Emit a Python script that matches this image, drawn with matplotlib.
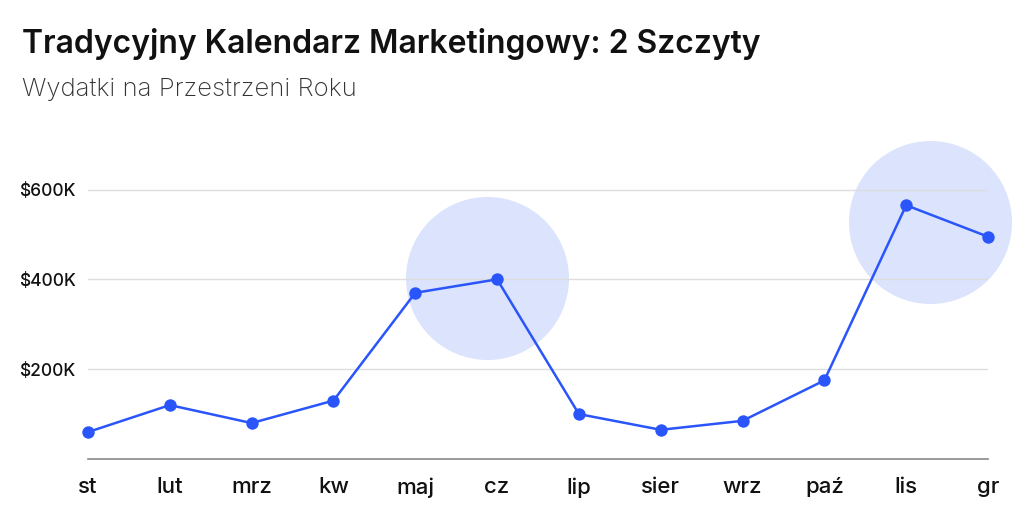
import matplotlib
matplotlib.use("Agg")
import matplotlib.pyplot as plt

months = ["st", "lut", "mrz", "kw", "maj", "cz", "lip", "sier", "wrz", "paź", "lis", "gr"]
spend = [60, 120, 80, 130, 370, 400, 100, 65, 85, 175, 565, 495]  # thousands of $

# highlight circles: (x position in month index, y value in K)
peaks_x = [4.88, 10.29]
peaks_y = [404, 527]

yticks = [200, 400, 600]
ytick_labels = ["$200K", "$400K", "$600K"]

blue = "#2a55fb"

plt.rcParams['font.family'] = ['Inter', 'DejaVu Sans']

fig = plt.figure(figsize=(10.24, 5.05), dpi=100)
ax = fig.add_axes([88/1024, 46/505, 900/1024, 318/505])

x = list(range(len(months)))

# big soft circles behind peaks (size in points^2, diameter ~163px)
d = 163 * 72 / 100
ax.scatter(peaks_x, peaks_y, s=d**2, color="#dbe3fd", zorder=1, clip_on=False, linewidths=0)

ax.plot(x, spend, color=blue, lw=1.8, zorder=3, clip_on=False)
ax.scatter(x, spend, s=80, color=blue, zorder=4, clip_on=False, linewidths=0)

ax.set_xlim(0, 11)
ax.set_ylim(0, 708)
ax.set_xticks(x)
ax.set_xticklabels(months, fontsize=16, color="#111111", fontweight="medium")
ax.set_yticks(yticks)
ax.set_yticklabels(ytick_labels, fontsize=12.5, color="#111111", fontweight="medium")
ax.tick_params(axis="both", length=0)
ax.tick_params(axis="x", pad=13)
ax.tick_params(axis="y", pad=9)

ax.grid(axis="y", color="#dddddd", lw=1, zorder=2)
ax.set_axisbelow(False)
for s in ["top", "right", "left"]:
    ax.spines[s].set_visible(False)
ax.spines["bottom"].set_color("#888888")
ax.spines["bottom"].set_linewidth(1.2)

fig.text(22/1024, 1 - 44/505, "Tradycyjny Kalendarz Marketingowy: 2 Szczyty",
         fontsize=23, fontweight="semibold", color="#111111", va="center", ha="left")
fig.text(22/1024, 1 - 90/505, "Wydatki na Przestrzeni Roku",
         fontsize=18.5, fontweight="light", color="#333333", va="center", ha="left")

fig.savefig("out.png", dpi=100)
